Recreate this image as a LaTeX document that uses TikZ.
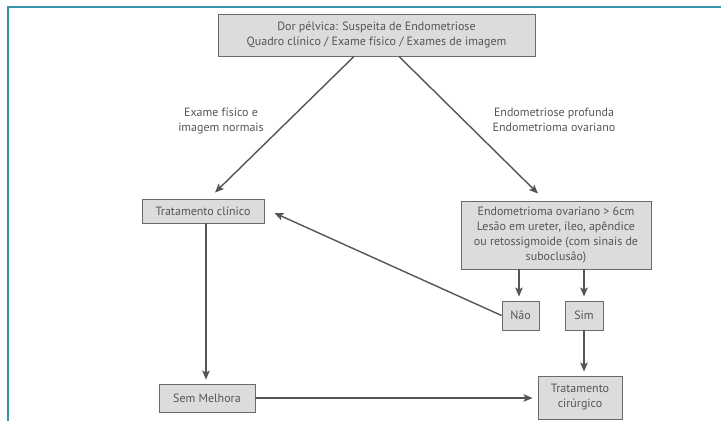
\documentclass[tikz,border=0pt]{standalone}
\usepackage{fontspec}
\setmainfont{PT Sans}
\usetikzlibrary{arrows.meta,calc}
\definecolor{txt}{HTML}{555555}
\definecolor{boxfill}{HTML}{DCDCDC}
\definecolor{boxline}{HTML}{6A6A6A}
\definecolor{arrowc}{HTML}{555555}
\definecolor{frame}{HTML}{3A93AB}
\tikzset{
  box/.style={draw=boxline, fill=boxfill, line width=0.9pt, inner sep=0pt,
    align=center, text=txt, font=\fontsize{12pt}{15pt}\selectfont},
  lbl/.style={align=center, text=txt, inner sep=0pt, font=\fontsize{12pt}{15pt}\selectfont},
  arr/.style={draw=arrowc, line width=1.4pt, -{Stealth[length=9pt,width=7.5pt,inset=2pt]}},
}
\begin{document}
\begin{tikzpicture}[x=1pt,y=-1pt]
\useasboundingbox (0,0) rectangle (721,421);
% frame
\draw[frame, line width=1.6pt] (8,421) -- (8,7) -- (721,7);
% nodes
\node[box, minimum width=317pt, minimum height=42pt] (top) at (376.5,35)
  {Dor pélvica: Suspeita de Endometriose\\Quadro clínico / Exame físico / Exames de imagem};
\node[box, minimum width=122pt, minimum height=24pt] (tclin) at (203,211) {Tratamento clínico};
\node[box, minimum width=190pt, minimum height=68pt] (big) at (556,235)
  {Endometrioma ovariano > 6cm\\Lesão em ureter, íleo, apêndice\\ou retossigmoide (com sinais de\\suboclusão)};
\node[box, minimum width=37pt, minimum height=29pt] (nao) at (520.5,315.5) {Não};
\node[box, minimum width=38pt, minimum height=29pt] (sim) at (584,315.5) {Sim};
\node[box, minimum width=96pt, minimum height=28pt] (semm) at (207,398) {Sem Melhora};
\node[box, minimum width=84pt, minimum height=43pt] (tcir) at (580,397.5) {Tratamento\\cirúrgico};
% labels
\node[lbl] (l1) at (221,120.5) {Exame físico e\\imagem normais};
\node[lbl] (l2) at (554,120) {Endometriose profunda\\Endometrioma ovariano};
% connectors
\draw[arr] ([xshift=-22.5pt]top.south) -- ([xshift=12pt,yshift=6pt]tclin.north);
\draw[arr] ([xshift=22.5pt]top.south) -- ([xshift=-18pt,yshift=7pt]big.north);
\draw[arr] ([xshift=-1.5pt]big.south -| nao) -- ([xshift=-1.5pt,yshift=4pt]nao.north);
\draw[arr] (big.south -| sim) -- ([yshift=4pt]sim.north);
\draw[arr] (sim.south) -- ([yshift=4pt]sim.south |- tcir.north);
\draw[arr] (nao.west) -- ([xshift=10pt,yshift=-2pt]tclin.east);
\draw[arr] ([xshift=3pt]tclin.south) -- ([xshift=3pt,yshift=4pt]tclin.south |- semm.north);
\draw[arr] (semm.east) -- ([xshift=-5pt]tcir.west |- semm.east);
\end{tikzpicture}
\end{document}
